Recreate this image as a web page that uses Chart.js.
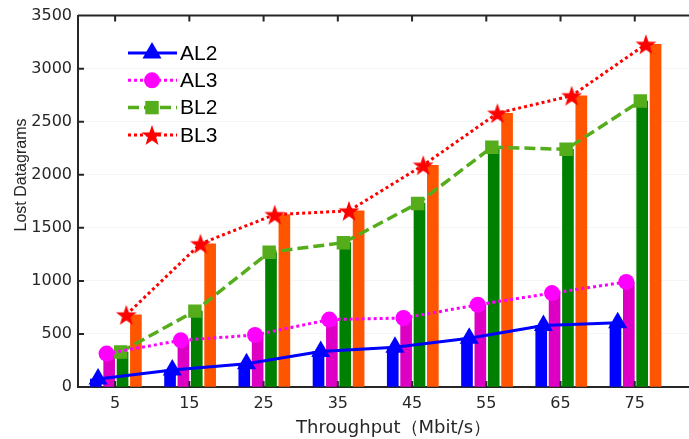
<!DOCTYPE html>
<html>
<head>
<meta charset="utf-8">
<script src="https://cdn.jsdelivr.net/npm/chart.js@4.4.0/dist/chart.umd.min.js"></script>
<style>
html, body { margin: 0; padding: 0; background: #fff; overflow: hidden; }
canvas { display: block; }
</style>
</head>
<body>
<canvas id="lossChart" width="720" height="439"></canvas>
<script>
const throughput = [5, 15, 25, 35, 45, 55, 65, 75];
const al2 = [75, 160, 220, 335, 375, 460, 580, 605];
const al3 = [315, 440, 490, 635, 650, 775, 885, 990];
const bl2 = [330, 715, 1270, 1360, 1730, 2260, 2240, 2695];
const bl3 = [680, 1350, 1625, 1660, 2090, 2580, 2745, 3230];
const yTicks = [0, 500, 1000, 1500, 2000, 2500, 3000, 3500];
const names = ['AL2', 'AL3', 'BL2', 'BL3'];

// position of each series inside a group, in x units
const barShift = [-2.6, -0.8, 1.0, 2.8];
const lineShift = [-2.3, -1.15, 0.75, 1.5];

const axisColor = '#262626';
const font = 'Arial, "Liberation Sans", sans-serif';
const wideFont = '"DejaVu Sans", sans-serif';

function at(values, shift) {
  return values.map((v, i) => ({ x: throughput[i] + shift, y: v }));
}

function starImage(size, color) {
  const c = document.createElement('canvas');
  c.width = size; c.height = size;
  const g = c.getContext('2d');
  const r1 = size / 2, r2 = r1 * 0.4;
  g.beginPath();
  for (let k = 0; k < 10; k++) {
    const r = k % 2 ? r2 : r1;
    const a = -Math.PI / 2 + k * Math.PI / 5;
    g.lineTo(r1 + r * Math.cos(a), r1 + 1 + r * Math.sin(a));
  }
  g.closePath();
  g.fillStyle = color;
  g.fill();
  return c;
}
const star = starImage(22, '#ff0000');

function bar(values, shift, color) {
  return {
    type: 'bar',
    data: at(values, shift),
    backgroundColor: color,
    barThickness: 11,
    grouped: false,
    order: 2
  };
}

const lines = [
  { label: 'AL2', data: at(al2, lineShift[0]), borderColor: '#0000ff', backgroundColor: '#0000ff',
    borderWidth: 3, borderDash: [], pointStyle: 'triangle', pointRadius: 11 },
  { label: 'AL3', data: at(al3, lineShift[1]), borderColor: '#ff00ff', backgroundColor: '#ff00ff',
    borderWidth: 3, borderDash: [3, 3], pointStyle: 'circle', pointRadius: 8 },
  { label: 'BL2', data: at(bl2, lineShift[2]), borderColor: '#55ad1c', backgroundColor: '#55ad1c',
    borderWidth: 3.5, borderDash: [11, 5], pointStyle: 'rect', pointRadius: 9.5 },
  { label: 'BL3', data: at(bl3, lineShift[3]), borderColor: '#ff0000', backgroundColor: '#ff0000',
    borderWidth: 3, borderDash: [3, 3], pointStyle: star, pointRadius: 11 }
].map(d => Object.assign(d, { type: 'line', order: 1, pointBorderWidth: 0, pointBorderColor: d.borderColor, tension: 0 }));

// inward ticks + top frame, MATLAB style
const framePlugin = {
  id: 'frame',
  afterDatasetsDraw(chart) {
    const { ctx, chartArea: a, scales } = chart;
    ctx.save();
    ctx.strokeStyle = axisColor;
    ctx.lineWidth = 2;
    ctx.beginPath();
    ctx.moveTo(a.left, a.top); ctx.lineTo(a.right, a.top);
    ctx.moveTo(a.right, a.top); ctx.lineTo(a.right, a.bottom);
    throughput.forEach(v => {
      const x = scales.x.getPixelForValue(v);
      ctx.moveTo(x, a.bottom); ctx.lineTo(x, a.bottom - 6);
      ctx.moveTo(x, a.top); ctx.lineTo(x, a.top + 6);
    });
    yTicks.forEach(v => {
      const y = scales.y.getPixelForValue(v);
      ctx.moveTo(a.left, y); ctx.lineTo(a.left + 6, y);
    });
    ctx.stroke();

    // y title, placed like the original
    ctx.translate(22, 175);
    ctx.rotate(-Math.PI / 2);
    ctx.fillStyle = axisColor;
    ctx.font = '16px ' + font;
    ctx.textAlign = 'center';
    ctx.textBaseline = 'middle';
    ctx.fillText('Lost Datagrams', 0, 0);
    ctx.restore();
  }
};

const legendPlugin = {
  id: 'insideLegend',
  afterDraw(chart) {
    const ctx = chart.ctx;
    ctx.save();
    lines.forEach((d, i) => {
      const y = 53 + i * 27.3;
      ctx.strokeStyle = d.borderColor;
      ctx.lineWidth = d.borderWidth;
      ctx.setLineDash(d.borderDash);
      ctx.beginPath();
      ctx.moveTo(128, y); ctx.lineTo(177, y);
      ctx.stroke();
      ctx.setLineDash([]);
      ctx.fillStyle = d.backgroundColor;
      Chart.helpers.drawPoint(ctx, { pointStyle: d.pointStyle, radius: d.pointRadius, rotation: 0, borderWidth: 0 }, 152, y);
      ctx.fillStyle = '#000';
      ctx.font = '21px ' + font;
      ctx.textBaseline = 'middle';
      ctx.fillText(names[i], 180, y + 1);
    });
    ctx.restore();
  }
};

new Chart(document.getElementById('lossChart'), {
  type: 'bar',
  data: {
    datasets: [
      ...lines,
      bar(al2, barShift[0], '#0000ff'),
      bar(al3, barShift[1], '#dd00c4'),
      bar(bl2, barShift[2], '#008000'),
      bar(bl3, barShift[3], '#ff5500')
    ]
  },
  options: {
    responsive: false,
    animation: false,
    layout: { padding: { top: 14, right: 8, left: 0, bottom: 0 } },
    plugins: { legend: { display: false }, tooltip: { enabled: false } },
    scales: {
      x: {
        type: 'linear',
        min: 0,
        max: 85,
        offset: false,
        afterBuildTicks: s => { s.ticks = throughput.map(v => ({ value: v })); },
        afterFit: s => { s.height = 52; },
        grid: { display: false, drawTicks: false, offset: false },
        border: { display: true, color: axisColor, width: 2 },
        ticks: { color: axisColor, font: { size: 16, family: wideFont }, padding: 7, maxRotation: 0 },
        title: {
          display: true,
          text: 'Throughput（Mbit/s）',
          color: axisColor,
          font: { size: 18, family: wideFont },
          padding: { top: 0, bottom: 0 }
        }
      },
      y: {
        min: 0,
        max: 3500,
        afterBuildTicks: s => { s.ticks = yTicks.map(v => ({ value: v })); },
        afterFit: s => { s.width = 78; },
        grid: { color: 'rgba(0,0,0,0.04)', drawTicks: false },
        border: { display: true, color: axisColor, width: 2 },
        ticks: { color: axisColor, font: { size: 16, family: wideFont }, padding: 6, callback: v => String(v) }
      }
    }
  },
  plugins: [framePlugin, legendPlugin]
});
</script>
</body>
</html>
